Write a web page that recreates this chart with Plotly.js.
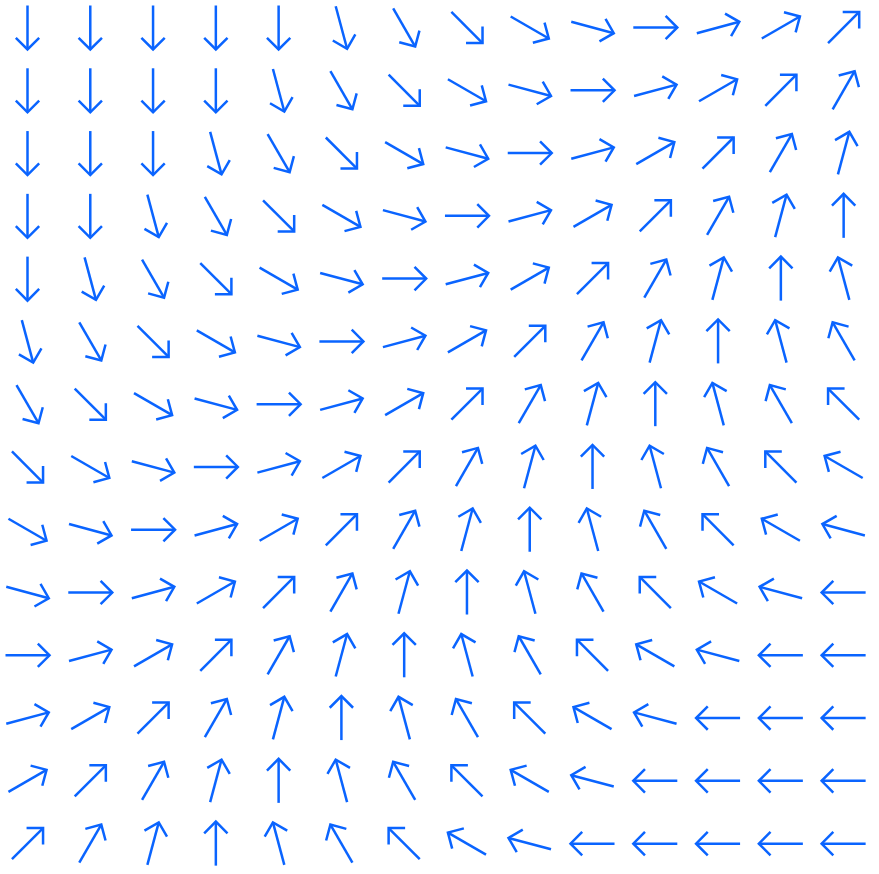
<!DOCTYPE html>
<html>
<head>
<meta charset="utf-8">
<script src="https://cdn.plot.ly/plotly-3.0.1.min.js"></script>
<style>html,body{margin:0;padding:0;background:#fff;}#chart{width:879px;height:874px;}</style>
</head>
<body>
<div id="chart"></div>
<script>
// Grid columns / rows (indices of arrow centres)
const cols = [0,1,2,3,4,5,6,7,8,9,10,11,12,13];
const rows = [0,1,2,3,4,5,6,7,8,9,10,11,12,13];

// Arrow directions in degrees (0 = right, 90 = up), one row per line, top to bottom
const angleRow0  = [-90,-90,-90,-90,-90,-75,-60,-45,-30,-15,0,15,30,45];
const angleRow1  = [-90,-90,-90,-90,-75,-60,-45,-30,-15,0,15,30,45,60];
const angleRow2  = [-90,-90,-90,-75,-60,-45,-30,-15,0,15,30,45,60,75];
const angleRow3  = [-90,-90,-75,-60,-45,-30,-15,0,15,30,45,60,75,90];
const angleRow4  = [-90,-75,-60,-45,-30,-15,0,15,30,45,60,75,90,105];
const angleRow5  = [-75,-60,-45,-30,-15,0,15,30,45,60,75,90,105,120];
const angleRow6  = [-60,-45,-30,-15,0,15,30,45,60,75,90,105,120,135];
const angleRow7  = [-45,-30,-15,0,15,30,45,60,75,90,105,120,135,150];
const angleRow8  = [-30,-15,0,15,30,45,60,75,90,105,120,135,150,165];
const angleRow9  = [-15,0,15,30,45,60,75,90,105,120,135,150,165,180];
const angleRow10 = [0,15,30,45,60,75,90,105,120,135,150,165,180,180];
const angleRow11 = [15,30,45,60,75,90,105,120,135,150,165,180,180,180];
const angleRow12 = [30,45,60,75,90,105,120,135,150,165,180,180,180,180];
const angleRow13 = [45,60,75,90,105,120,135,150,165,180,180,180,180,180];
const angles = [angleRow0,angleRow1,angleRow2,angleRow3,angleRow4,angleRow5,angleRow6,
                angleRow7,angleRow8,angleRow9,angleRow10,angleRow11,angleRow12,angleRow13];

// geometry (data units; 1 unit = grid spacing)
const PX = 62.78;               // pixels per unit
const LEN = 44 / PX;            // arrow length
const HEAD = 16.5 / PX;         // wing length
const WING = Math.PI / 4;       // wing angle

const xs = [], ys = [];
rows.forEach((r, i) => {
  cols.forEach((c, j) => {
    const a = angles[i][j] * Math.PI / 180;
    const dx = Math.cos(a), dy = Math.sin(a);
    const cx = c, cy = -r;
    const tx = cx - dx * LEN / 2, ty = cy - dy * LEN / 2;
    const hx = cx + dx * LEN / 2, hy = cy + dy * LEN / 2;
    const back = a + Math.PI;
    const w1x = hx + HEAD * Math.cos(back + WING), w1y = hy + HEAD * Math.sin(back + WING);
    const w2x = hx + HEAD * Math.cos(back - WING), w2y = hy + HEAD * Math.sin(back - WING);
    xs.push(tx, hx, null, w1x, hx, w2x, null);
    ys.push(ty, hy, null, w1y, hy, w2y, null);
  });
});

const W = 879, H = 874, off = 27.5;
const data = [{
  type: 'scatter', mode: 'lines', x: xs, y: ys,
  line: {color: '#0a64ff', width: 2.5}, hoverinfo: 'skip', connectgaps: false
}];
const layout = {
  width: W, height: H,
  margin: {l: 0, r: 0, t: 0, b: 0},
  paper_bgcolor: '#ffffff', plot_bgcolor: '#ffffff',
  showlegend: false,
  xaxis: {range: [-off / PX, (W - off) / PX], visible: false, fixedrange: true},
  yaxis: {range: [-(H - off) / PX, off / PX], visible: false, fixedrange: true}
};
Plotly.newPlot('chart', data, layout, {displayModeBar: false, staticPlot: true});
</script>
</body>
</html>
